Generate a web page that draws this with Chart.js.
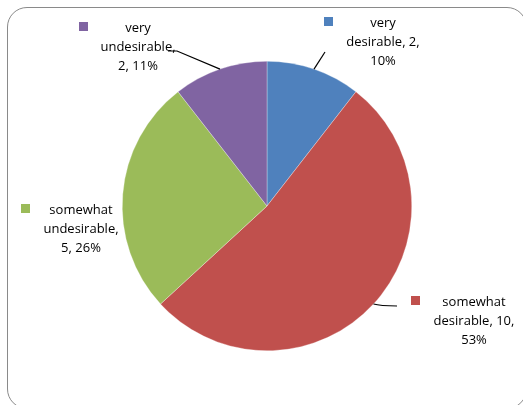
<!DOCTYPE html>
<html>
<head>
<meta charset="utf-8">
<script src="https://cdn.jsdelivr.net/npm/chart.js@4/dist/chart.umd.min.js"></script>
<style>
  html, body { margin: 0; padding: 0; background: #fff; }
  #wrap { position: relative; width: 523px; height: 405px; overflow: hidden; }
  #frame {
    position: absolute; left: 7px; top: 7px; width: 520px; height: 402px;
    border: 1.5px solid #8a8a8a; border-radius: 20px; box-sizing: border-box;
  }
  canvas { position: absolute; left: 0; top: 0; }
</style>
</head>
<body>
<div id="wrap">
  <div id="frame"></div>
  <canvas id="pie" width="523" height="405"></canvas>
</div>
<script>
const categories = ['very desirable', 'somewhat desirable', 'somewhat undesirable', 'very undesirable'];
const counts = [2, 10, 5, 2];
const percentLabels = ['10%', '53%', '26%', '11%'];
const sliceColors = ['#4F81BD', '#C0504D', '#9BBB59', '#8064A2'];

// label text split into lines the way the picture wraps them
const labelLines = [
    ['very', 'desirable, ' + counts[0] + ',', percentLabels[0]],
    ['somewhat', 'desirable, ' + counts[1] + ',', percentLabels[1]],
    ['somewhat', 'undesirable,', counts[2] + ', ' + percentLabels[2]],
    ['very', 'undesirable,', counts[3] + ', ' + percentLabels[3]]
];

// layout of the label blocks: text centre x, first line y, key square position, leader end points
const labelLayout = [
    { cx: 383, y: 23, key: [324, 17], leader: [[325, 52]] },
    { cx: 474, y: 302, key: [411, 296], leader: [[386, 306], [397, 306]], curve: true },
    { cx: 81, y: 210, key: [21, 204], leader: null },
    { cx: 138, y: 28, key: [79, 22], leader: [[177, 51], [168, 51]] }
];

const labelPlugin = {
    id: 'excelLabels',
    afterDraw(chart) {
        const c = chart.ctx;
        const arcs = chart.getDatasetMeta(0).data;
        c.save();
        arcs.forEach((arc, i) => {
            const lay = labelLayout[i];
            if (lay.leader) {
                const mid = (arc.startAngle + arc.endAngle) / 2;
                const sx = arc.x + arc.outerRadius * Math.cos(mid);
                const sy = arc.y + arc.outerRadius * Math.sin(mid);
                c.beginPath();
                c.strokeStyle = '#000';
                c.lineWidth = 1.2;
                c.moveTo(sx, sy);
                if (lay.curve) {
                    c.quadraticCurveTo(lay.leader[0][0] - 6, lay.leader[0][1], lay.leader[1][0], lay.leader[1][1]);
                } else {
                    lay.leader.forEach(p => c.lineTo(p[0], p[1]));
                }
                c.stroke();
            }
            c.fillStyle = sliceColors[i];
            c.fillRect(lay.key[0], lay.key[1], 9, 9);

            c.fillStyle = '#000';
            c.font = '13px "Open Sans", sans-serif';
            c.textAlign = 'center';
            c.textBaseline = 'middle';
            labelLines[i].forEach((t, k) => c.fillText(t, lay.cx, lay.y + k * 19.3));
        });
        c.restore();
    }
};

new Chart(document.getElementById('pie'), {
    type: 'pie',
    data: {
        labels: categories,
        datasets: [{
            data: counts,
            backgroundColor: sliceColors,
            borderColor: 'rgba(255,255,255,0.6)',
            borderWidth: 0.5,
            hoverOffset: 0
        }]
    },
    options: {
        responsive: false,
        animation: false,
        layout: { padding: { left: 122, right: 111, top: 61, bottom: 54 } },
        plugins: {
            legend: { display: false },
            tooltip: { enabled: false }
        }
    },
    plugins: [labelPlugin]
});
</script>
</body>
</html>
